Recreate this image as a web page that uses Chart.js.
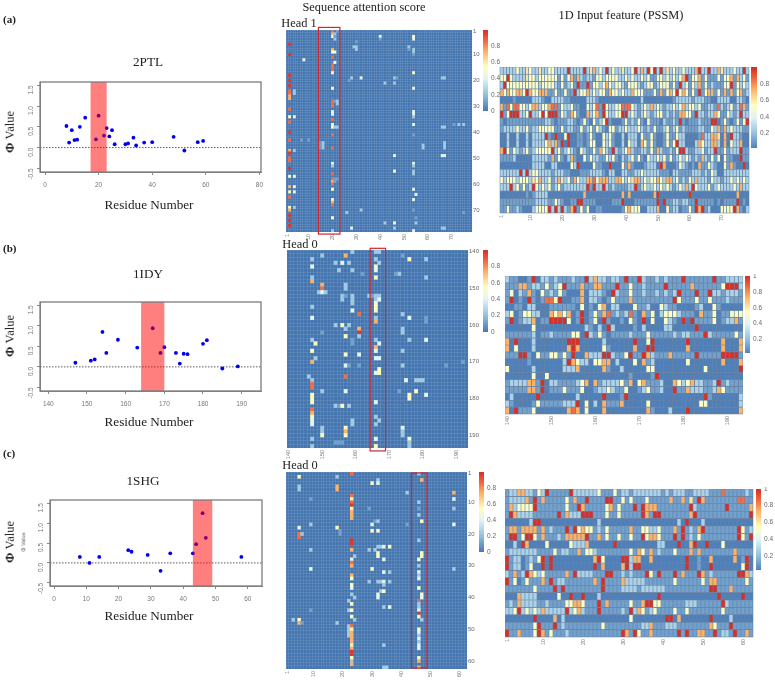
<!DOCTYPE html>
<html lang="en">
<head>
<meta charset="UTF-8" />
<title>Attention maps and PSSM</title>
<script src="https://cdn.jsdelivr.net/npm/chart.js"></script>
<style>
  html, body { margin: 0; padding: 0; background: #fff; }
  #page { position: relative; width: 775px; height: 682px; overflow: hidden; }
  canvas { position: absolute; }
  #phiA, #phiB, #phiC { filter: blur(0.3px); }
  #pssmA, #pssmB, #pssmC { filter: blur(0.15px); }
  .t { position: absolute; font-family: "Liberation Serif", serif; color: #222; white-space: nowrap; line-height: 1; transform: translate(-50%, -50%); filter: blur(0.25px); }
  .tag { font-weight: bold; font-size: 11px; transform: translateY(-50%); }
  .name { font-size: 13.2px; }
  .head { font-size: 12.4px; }
  .phi { font-size: 12.5px; transform: translate(-50%, -50%) rotate(-90deg); }
  .phi b { font-weight: bold; }
  .mini { font-family: "Liberation Sans", sans-serif; font-size: 5.5px; color: #666; transform: translate(-50%, -50%) rotate(-90deg); }
</style>
</head>
<body>
<div id="page">
  <div class="t tag" style="left:3px;top:19px">(a)</div>
  <div class="t tag" style="left:3px;top:248px">(b)</div>
  <div class="t tag" style="left:3px;top:453px">(c)</div>

  <div class="t name" style="left:148px;top:62px">2PTL</div>
  <div class="t name" style="left:148px;top:274px">1IDY</div>
  <div class="t name" style="left:143px;top:481px">1SHG</div>

  <div class="t name" style="left:149px;top:205px">Residue Number</div>
  <div class="t name" style="left:149px;top:422px">Residue Number</div>
  <div class="t name" style="left:149px;top:616px">Residue Number</div>

  <div class="t phi" style="left:10px;top:132px"><b>Φ</b> Value</div>
  <div class="t phi" style="left:10px;top:336px"><b>Φ</b> Value</div>
  <div class="t phi" style="left:10px;top:542px"><b>Φ</b> Value</div>
  <div class="t mini" style="left:24px;top:542px">Φ Value</div>

  <div class="t head" style="left:364px;top:7px">Sequence attention score</div>
  <div class="t head" style="left:621px;top:15px">1D Input feature (PSSM)</div>
  <div class="t head" style="left:299px;top:23px">Head 1</div>
  <div class="t head" style="left:300px;top:244px">Head 0</div>
  <div class="t head" style="left:300px;top:465px">Head 0</div>

  <canvas id="phiA"></canvas><canvas id="phiB"></canvas><canvas id="phiC"></canvas>
  <canvas id="attnA"></canvas><canvas id="attnB"></canvas><canvas id="attnC"></canvas>
  <canvas id="pssmA"></canvas><canvas id="pssmB"></canvas><canvas id="pssmC"></canvas>
  <canvas id="barAttnA"></canvas><canvas id="barAttnB"></canvas><canvas id="barAttnC"></canvas>
  <canvas id="barPssmA"></canvas><canvas id="barPssmB"></canvas><canvas id="barPssmC"></canvas>
</div>

<script>
// ---- phi value scatter data (residue, phi)
const phiPointsA = [[8,.52],[9,.12],[10,.42],[11,.18],[12,.19],[13,.5],[15,.72],[19,.2],[20,.77],[22,.29],[23,.47],[24,.27],[25,.42],[26,.08],[30,.08],[31,.1],[33,.24],[34,.05],[37,.12],[40,.13],[48,.26],[52,-.07],[57,.13],[59,.16]];
const phiPointsB = [[147,.1],[151,.15],[152,.18],[154,.85],[155,.34],[158,.66],[163,.47],[167,.94],[169,.34],[170,.48],[173,.34],[174,.08],[175,.32],[176,.31],[180,.56],[181,.65],[185,-.04],[189,.01]];
const phiPointsC = [[8,.15],[11,0],[14,.15],[23,.32],[24,.28],[29,.2],[33,-.2],[36,.24],[43,.24],[44,.47],[46,1.25],[47,.63],[58,.15]];
const bandA = [17, 23];
const bandB = [164, 170];
const bandC = [43, 49];
const phiTicksY = [-0.5, 0, 0.5, 1, 1.5];
const phiTicksXA = [0, 20, 40, 60, 80];
const phiTicksXB = [140, 150, 160, 170, 180, 190];
const phiTicksXC = [0, 10, 20, 30, 40, 50, 60];

// ---- attention scores: [column, row, score, row, score, ...], all other cells are ~0
const R = .98, H = .86, O = .74, Y = .56, W = .42, L = .24, F = .12;
const attnCellsA = [
  [2, 6,R,10,R,18,R,20,R,22,R,24,H,25,H,26,O,27,O,31,H,34,Y,36,H,40,R,43,H,47,O,48,R,50,H,51,H,54,R,57,Y,61,O,63,Y,65,H,69,Y,70,O,72,R,74,R,76,R],
  [4, 24,L,25,L,34,W,47,L,57,W,61,W,63,W,69,L],
  [8, 12,W], [16, 44,L,45,L,46,L], [15, 44,F,45,F,46,F], [10, 43,F], [7, 43,F], [20, 1,H,2,O,3,W,8,O,9,Y,11,H,14,H,15,H,16,H,17,Y,23,Y,28,H,29,H,30,H,32,W,33,W,35,H,37,Y,38,Y,41,H,46,H,52,W,53,L,56,H,58,H,59,O,60,H,62,Y,66,Y,67,O,68,H,73,Y,78,L],
  [21, 2,L,4,L,9,Y,13,Y,38,L,3,F,28,F,58,F,59,F],
  [22, 1,F,28,L,29,L,38,L,58,F],
  [28, 19,L,77,W], [30, 7,L,8,L,5,F], [29, 7,L], [32, 19,W,70,L], [26, 71,L], [27, 20,F],
  [40, 3,W,4,F], [42, 21,L,75,L], [46, 19,L,21,L,49,W,55,Y,75,Y,77,L], [47, 19,F], [52, 7,L,8,F],
  [54, 3,Y,4,W,8,L,9,L,10,F,17,Y,23,W,32,W,33,W,34,L,37,W,41,F,52,W,53,L,55,L,56,L,62,W,66,W,70,F,78,W],
  [55, 64,W,75,L,73,F], [58, 45,L,46,L], [66, 19,L,38,L,49,W,77,L], [67, 19,L,38,L,44,L,45,L,46,L,49,W,77,L],
  [71, 37,F], [73, 37,L], [75, 37,L], [75, 71,F]
];
const attnCellsB = [
  [8, 3,L,5,W,8,L,9,O,16,L,19,W,25,L,28,Y,31,O,36,L,37,H,38,H,40,Y,41,Y,42,Y,44,H,45,O,46,Y,47,W,48,W,52,L,54,L],
  [9, 26,Y,30,L], [10, 12,L], [11, 2,L,10,O,11,H,12,W,23,F,39,L,49,L,50,L,51,Y], [12, 12,L], [7, 35,L],
  [15, 4,L,21,L,43,L,53,F], [16, 6,L,53,F,43,F], [17, 4,W,13,L,14,L,21,Y,43,Y,53,F],
  [18, 2,O,10,L,11,L,13,F,22,L,24,Y,29,Y,32,W,35,H,39,W,49,Y,50,O,51,Y],
  [19, 4,L,21,L,43,L,32,F],
  [20, 1,L,6,L,13,L,14,L,15,L,17,W,47,L,48,L,25,F,26,F],
  [22, 18,H,22,O,23,R,24,L,29,W,32,F], [23, 7,F], [25, 13,L], [26, 13,F],
  [27, 1,L,3,L,5,Y,6,W,8,Y,13,L,14,L,15,Y,16,Y,17,Y,19,L,20,O,25,L,27,O,28,W,30,W,34,W,42,W,46,L,48,L,52,W,54,Y],
  [28, 1,L,4,L,13,L,14,W,26,W,30,W,33,Y,34,Y,47,L],
  [34, 7,L,39,F], [33, 7,F], [35, 2,F,18,L,22,L,23,L,28,L,32,L,49,W,50,L,51,L],
  [36, 36,W], [37, 3,Y,19,W,25,L,40,Y,41,Y,52,Y,53,L,54,L],
  [39, 36,L,39,Y], [40, 36,L], [41, 36,L], [42, 3,L,8,L,19,F,20,F,25,W,40,W],
  [48, 32,F], [53, 31,F]
];
const attnCellsC = [
  [3, 47,L], [5, 2,Y,5,L,6,L,18,W,20,H,21,H,47,Y,48,O], [6, 20,L,48,F], [9, 9,F,17,L,25,L,31,W,44,F],
  [18, 2,L,5,O,6,O,18,Y,48,L], [19, 20,F,19,F],
  [22, 41,L,44,L,49,L,50,L,51,L,52,L],
  [23, 1,H,8,H,9,Y,10,H,11,R,12,Y,13,O,14,O,15,O,22,R,23,R,25,O,28,W,29,H,30,O,33,O,34,Y,36,Y,37,W,39,L,42,Y,44,Y,46,Y,49,H,50,Y,51,O,52,O,53,O,54,O,55,W,56,O,57,R,58,R,59,Y,60,L,61,O],
  [24, 27,L,40,L,47,L],
  [29, 25,L,35,L,12,F], [30, 4,Y,17,W,19,Y,31,Y], [31, 25,L,16,F],
  [32, 3,L,4,W,16,L,19,Y,26,Y,27,Y,35,L,39,W,40,W,24,L], [33, 24,L,38,L,35,L],
  [34, 24,W,28,W,32,W,35,W,36,L,38,Y,43,L,55,L,62,L], [35, 62,L], [36, 24,Y,32,L,35,L,43,W],
  [42, 7,L,17,F], [46, 1,L,10,L,12,F,14,L,22,L,28,Y,30,L,32,W,33,L,34,W,37,Y,41,H,42,L,43,L,44,W,45,R,46,Y,50,Y,51,W,52,L,53,W,54,L,55,W,56,W,59,Y,60,O,62,O],
  [47, 3,O,16,Y,26,Y,27,Y,39,Y,40,W,47,L],
  [58, 7,O,9,W,12,L,17,W,31,L]
];

// ---- PSSM values, one digit per cell (see digitValues), one string per row
const digitValues = [0, .03, .12, .27, .4, .54, .62, .74, .86, 1];
const pssmRowsA = [
  "3333353365 3363355333 3933339367 3539353363 3593739593 9363533533 3793393376 33353393",
  "5595333365 5355555525 2572732332 5535555335 3533535225 5353535792 5572522252 55727352",
  "3955555555 5535555325 2352922925 5357535532 5553235523 5552529352 5372523222 55925353",
  "7575577597 5577722522 5229355735 3552755353 3755522252 7257595752 5292577252 72725723",
  "1111211111 3332113333 2211111333 2111111111 1111311111 1111233333 2333221133 33113321",
  "7285885535 7735578825 3352211535 8295335588 8532353735 3233535735 5352233283 23523872",
  "9259993359 3359599925 3275211735 7295335599 3532353235 5232327755 2933233752 25323933",
  "2122222222 2222332122 2332125215 2359211125 2325215222 1322329212 2232229912 52125259",
  "2333353352 3355555225 2332252352 5321552335 3335323252 2352352322 2233225372 73533322",
  "1131131131 3333921911 5911221252 1153521131 3331522521 1252253311 1128337761 71933211",
  "1131131131 3333573729 1911221255 1153521131 5331752521 1252593311 1375337731 71533711",
  "7952532352 3555559352 3532153225 2753293235 7322332527 3223259932 2335233922 52333922",
  "2222311111 3333327252 1372115253 3225352132 3525215335 3525235353 2327325251 52211922",
  "1111111111 3333113311 1153911115 2211911152 7211123331 9711125321 2172253211 52721191",
  "3333339393 5533332333 2211122233 3321331133 2233533333 2221332222 3332325311 33333333",
  "5355535553 6573352376 3527533778 5777337753 5677353557 5377352325 3733325332 33535353",
  "3339352523 9535352352 3333333929 3393232222 3392353353 5353235373 9533352353 33353733",
  "1111111121 2333311111 1111117111 1111111171 7111111179 1111111119 1111111111 11117111",
  "2222222222 2333322532 1122992222 1111122291 1122222229 1922332332 2922222121 22229121",
  "2252232111 3555593939 3279252511 2211111125 7555113337 1152331225 2979231115 55597213"
];
const pssmRowsB = [
  "3221129133 2322232293 7332332922 9322323222 9222222922 3333",
  "2227723325 2359222722 7722292252 2322229222 2272222225 9993",
  "2513272152 3252111713 3321932252 2322323239 2229229332 3332",
  "2912192128 8591122713 3212522272 2222222295 2225225222 3222",
  "1122133111 2222221512 1571331115 2231153221 1112311521 1111",
  "3512553311 7575712912 5278232382 1725135553 2221722512 2555",
  "2912337122 9999512912 5192112152 1915115321 9192222512 3372",
  "1111115111 1111111132 1319311112 1311113311 1119111111 1111",
  "2222223122 3222255193 2521222232 2252222232 3322293222 2252",
  "7191113111 1111999111 1131111119 1159111111 1911111117 1117",
  "7151113111 1111797111 1152111117 1199111111 1711111117 1117",
  "2229921522 5525291173 3399322592 2973222722 2229222229 9992",
  "1111121111 1113975331 5577131115 1723111111 1511111117 1117",
  "5111113111 1113337111 1172113111 1155111111 1111151111 1119",
  "1111115115 1111111111 1111111121 1112911111 1111111111 1111",
  "2333377291 3322223571 7233335271 5722231175 3573322392 3222",
  "2222277291 2225222511 2335322511 2352231192 2733322375 2222",
  "1311111911 1111113111 1191112911 1111111111 1111192111 1113",
  "3211112522 2223339151 3172227111 1151111111 1111551111 1113",
  "7192225111 1111787151 1171111111 1172111311 1911111111 1117"
];
const pssmRowsC = [
  "2337733253 9222229333 3335222523 3233333332 3233322333 3222822222 32",
  "2333372927 2222252722 9222299225 2522252222 2722726297 2222222288 22",
  "2735555922 2222252297 2222257252 2292977722 2222229322 2222292222 27",
  "2973333222 2229273339 9922252252 2222972992 2222227922 2222222222 29",
  "1111113991 1111111111 1113111111 1111111111 1113191113 1111111111 11",
  "2772777727 2322292957 5523252222 2722553352 2272923279 2222222295 23",
  "2992599527 2223277777 9227252252 2522957752 2292923252 2222222295 29",
  "1131971111 5111115333 7111111911 1111111133 1119117911 9111511111 11",
  "2333333322 2252332272 5532222222 2527527232 2252227272 2222222722 22",
  "9233123259 1911111111 1179511119 9377117111 1111191121 1711111712 91",
  "9233125119 1911111111 1191711117 9399111111 1111191121 1911111115 91",
  "3272397535 2222272933 3322299223 2322295292 2292722297 2322222299 73",
  "9251252227 2923322222 2272922227 3333322222 2252222225 2772222222 52",
  "2222222522 2292922222 2222922223 3332333333 2222222222 2992227222 22",
  "1117333311 1115119119 1113111111 1111111191 1111111111 1119111119 11",
  "2327333322 3222255775 2229272222 2522799552 2222233322 2222932222 22",
  "3359353537 3333393573 2229222223 2937523522 2252252222 2222522222 22",
  "1111111911 1171311111 1111111111 1511111111 9917111111 1911113111 11",
  "2222222592 2292322222 2222522222 2222337222 3332222222 2752229222 22",
  "9227222597 2522232222 2222222229 7295227222 2229292277 2292332922 72"
];

// ---- axis labels
const colsA = Array.from({length: 78}, (_, i) => i + 1);
const colsB = Array.from({length: 54}, (_, i) => i + 140);
const colsC = Array.from({length: 62}, (_, i) => i + 1);
const shownA = [1, 10, 20, 30, 40, 50, 60, 70];
const shownB = [140, 150, 160, 170, 180, 190];
const shownC = [1, 10, 20, 30, 40, 50, 60];
const attnBarTicks = [0, 0.2, 0.4, 0.6, 0.8];
const pssmBarTicksA = [0.2, 0.4, 0.6, 0.8];
const pssmBarTicks = [0.2, 0.4, 0.6, 0.8, 1];

Chart.defaults.font.family = '"Liberation Sans", Arial, sans-serif';
Chart.defaults.animation = false;
Chart.defaults.plugins.legend.display = false;
Chart.defaults.plugins.tooltip.enabled = false;

const TICK = '#777';
const STOPS = [[0,[69,117,180]],[.2,[145,191,219]],[.4,[224,243,248]],[.55,[255,255,191]],[.75,[253,174,97]],[.86,[244,109,67]],[1,[215,48,39]]];

function heatColor(v) {
  for (let i = 1; i < STOPS.length; i++) {
    if (v <= STOPS[i][0]) {
      const a = STOPS[i - 1], b = STOPS[i];
      const t = (v - a[0]) / (b[0] - a[0]);
      const c = a[1].map((p, k) => Math.round(p + (b[1][k] - p) * t));
      return `rgb(${c[0]},${c[1]},${c[2]})`;
    }
  }
  return 'rgb(215,48,39)';
}

// place a canvas so the plot area lands exactly on box
function place(id, box, m) {
  const cv = document.getElementById(id);
  const w = box.r - box.l + m.l + m.r, h = box.b - box.t + m.t + m.b;
  cv.width = w; cv.height = h;
  cv.style.left = (box.l - m.l) + 'px';
  cv.style.top = (box.t - m.t) + 'px';
  cv.style.width = w + 'px'; cv.style.height = h + 'px';
  return cv;
}

function fixH(h) { return s => { s.height = h; s.paddingLeft = 0; s.paddingRight = 0; }; }
function fixW(w) { return s => { s.width = w; s.paddingTop = 0; s.paddingBottom = 0; }; }
function setTicks(list) { return s => { s.ticks = list.map(v => ({value: v})); }; }

const bandPlugin = {
  id: 'band',
  afterDatasetsDraw(chart, args, o) {
    const {ctx, chartArea: a, scales} = chart;
    const x0 = scales.x.getPixelForValue(o.range[0]), x1 = scales.x.getPixelForValue(o.range[1]);
    ctx.save();
    ctx.fillStyle = 'rgba(255,0,0,0.5)';
    ctx.fillRect(x0, a.top, x1 - x0, a.bottom - a.top);
    ctx.strokeStyle = '#7c7c7c'; ctx.lineWidth = 1.3;
    ctx.strokeRect(a.left, a.top, a.right - a.left, a.bottom - a.top);
    ctx.restore();
  }
};

function phiChart(id, box, pts, band, xTicks, xr, yr) {
  const m = {l: 22, r: 4, t: 3, b: 20};
  const cv = place(id, box, m);
  new Chart(cv, {
    type: 'scatter',
    plugins: [bandPlugin],
    data: {datasets: [
      {data: pts.map(p => ({x: p[0], y: p[1]})), backgroundColor: '#0000ee', borderWidth: 0, pointRadius: 1.9},
      {type: 'line', data: [{x: xr[0], y: 0}, {x: xr[1], y: 0}], borderColor: '#333', borderWidth: 0.8, borderDash: [1.5, 1.5], pointRadius: 0}
    ]},
    options: {
      responsive: false,
      layout: {padding: {left: 0, right: m.r, top: m.t, bottom: 0}},
      plugins: {band: {range: band}},
      scales: {
        x: {type: 'linear', min: xr[0], max: xr[1], afterBuildTicks: setTicks(xTicks), afterFit: fixH(m.b),
            grid: {drawOnChartArea: false, tickLength: 3, color: '#888'}, border: {color: '#888'},
            ticks: {color: TICK, font: {size: 6.5}, padding: 6, maxRotation: 0, autoSkip: false}},
        y: {min: yr[0], max: yr[1], afterBuildTicks: setTicks(phiTicksY), afterFit: fixW(m.l),
            grid: {drawOnChartArea: false, tickLength: 3, color: '#888'}, border: {color: '#888'},
            ticks: {color: TICK, font: {size: 6.5}, padding: 6, minRotation: 90, maxRotation: 90, autoSkip: false,
                    callback: v => v.toFixed(1)}}
      }
    }
  });
}

const redBoxPlugin = {
  id: 'redBox',
  afterDraw(chart, args, o) {
    if (!o.cols) return;
    const {ctx, scales} = chart;
    const n = scales.x.getLabels().length;
    const x0 = scales.x.getPixelForDecimal(o.cols[0] / n), x1 = scales.x.getPixelForDecimal(o.cols[1] / n);
    const y0 = scales.y.getPixelForValue(o.rows[0] + .5), y1 = scales.y.getPixelForValue(o.rows[1] + .5);
    ctx.save();
    ctx.strokeStyle = '#d3262c'; ctx.lineWidth = 1.2;
    ctx.strokeRect(x0, y0, x1 - x0, y1 - y0);
    ctx.restore();
  }
};
const baseFillPlugin = {
  id: 'baseFill',
  beforeDraw(chart, args, o) {
    const {ctx, chartArea: a} = chart;
    ctx.save();
    ctx.fillStyle = o.color;
    ctx.fillRect(a.left, a.top, a.right - a.left, a.bottom - a.top);
    ctx.restore();
  }
};

// floating bars, one per cell, through category x and reversed linear y
function heatChart(id, box, cols, rowNames, shownX, shownY, cells, o) {
  const m = {l: 2, r: 14, t: 6, b: 16};
  const cv = place(id, box, m);
  const cw = (box.r - box.l) / cols.length;
  const nRows = rowNames.length;
  new Chart(cv, {
    type: 'bar',
    plugins: [baseFillPlugin, redBoxPlugin],
    data: {labels: cols, datasets: [{
      data: cells.map(c => ({x: cols[c[0] - 1], y: [c[1] - .5, c[1] + .5]})),
      backgroundColor: cells.map(c => heatColor(c[2])),
      borderColor: o.cellBorder || 'rgba(0,0,0,0)',
      borderWidth: o.cellBorder ? 0.3 : 0,
      borderSkipped: false,
      inflateAmount: o.inflate || 0,
      grouped: false,
      barThickness: cw,
      yAxisID: 'y'
    }]},
    options: {
      responsive: false,
      layout: {padding: {left: m.l, right: o.showY ? 0 : m.r, top: m.t, bottom: 0}},
      plugins: {baseFill: {color: o.base}, redBox: {cols: o.boxCols, rows: o.boxRows}},
      scales: {
        x: {type: 'category', offset: true, afterFit: fixH(m.b), border: {display: false},
            grid: {offset: true, color: o.gridColor, lineWidth: 0.6, drawTicks: false},
            ticks: {color: TICK, font: {size: 5.5}, padding: 2, autoSkip: false, minRotation: 90, maxRotation: 90,
                    callback: (v, i) => shownX.includes(cols[i]) ? String(cols[i]) : ''}},
        y: {position: 'right', reverse: true, min: .5, max: nRows + .5, afterFit: fixW(o.showY ? m.r : 0),
            afterBuildTicks: setTicks(shownY.map(n => rowNames.indexOf(n) + 1)),
            border: {display: false}, grid: {display: false, drawTicks: false},
            ticks: {display: !!o.showY, color: '#666', font: {size: 6}, padding: 1, autoSkip: false,
                    callback: v => String(rowNames[v - 1])}},
        g: {axis: 'y', position: 'left', min: 0, max: nRows, afterFit: fixW(0), border: {display: false},
            grid: {color: o.gridColor, lineWidth: 0.6, drawTicks: false},
            ticks: {display: false, stepSize: 1}}
      }
    }
  });
}

function colorBar(id, box, lo, hi, list) {
  const m = {l: 0, r: 16, t: 2, b: 2};
  const cv = place(id, box, m);
  const cells = [];
  const steps = 60, dv = (hi - lo) / steps;
  for (let i = 0; i < steps; i++) cells.push(lo + i * dv);
  new Chart(cv, {
    type: 'bar',
    data: {labels: ['c'], datasets: [{
      data: cells.map(v => ({x: 'c', y: [v, v + dv]})),
      backgroundColor: cells.map(v => heatColor(Math.min(1, v + dv / 2))),
      borderWidth: 0, grouped: false, barThickness: box.r - box.l, inflateAmount: 0.4
    }]},
    options: {
      responsive: false,
      layout: {padding: {top: m.t, bottom: m.b}},
      scales: {
        x: {display: false},
        y: {position: 'right', min: lo, max: hi, afterFit: fixW(m.r), afterBuildTicks: setTicks(list),
            border: {display: false}, grid: {display: false, drawTicks: false},
            ticks: {color: '#666', font: {size: 6.5}, padding: 3, autoSkip: false, callback: v => String(v)}}
      }
    }
  });
}

function sparse(list) {
  const out = [];
  list.forEach(col => {
    for (let i = 1; i < col.length; i += 2) out.push([col[0], col[i], col[i + 1]]);
  });
  return out;
}
function dense(rows) {
  const out = [];
  rows.forEach((s, r) => {
    s.replace(/ /g, '').split('').forEach((d, c) => out.push([c + 1, r + 1, digitValues[+d]]));
  });
  return out;
}

// ---- phi panels
phiChart('phiA', {l: 40, r: 261, t: 81, b: 172}, phiPointsA, bandA, phiTicksXA, [-1.87, 80.6], [-.588, 1.58]);
phiChart('phiB', {l: 40, r: 261, t: 301, b: 391}, phiPointsB, bandB, phiTicksXB, [137.85, 195], [-.588, 1.58]);
phiChart('phiC', {l: 50, r: 262, t: 499, b: 586}, phiPointsC, bandC, phiTicksXC, [-1.24, 64.4], [-.58, 1.58]);

// ---- attention panels
const attnStyle = {base: '#4676b0', gridColor: 'rgba(205,220,235,0.2)', showY: true, inflate: 0.25};
heatChart('attnA', {l: 286, r: 472, t: 30, b: 232}, colsA, colsA, shownA, shownA, sparse(attnCellsA),
  Object.assign({boxCols: [13.6, 22.6], boxRows: [-1, 78.8]}, attnStyle));
heatChart('attnB', {l: 287, r: 468, t: 250, b: 448}, colsB, colsB, shownB, shownB, sparse(attnCellsB),
  Object.assign({boxCols: [24.8, 29.4], boxRows: [-.46, 54.8]}, attnStyle));
heatChart('attnC', {l: 286, r: 467, t: 472, b: 669}, colsC, colsC, shownC, shownC, sparse(attnCellsC),
  Object.assign({boxCols: [43, 48.3], boxRows: [.3, 61.7]}, attnStyle));

// ---- PSSM panels
const rows20 = Array.from({length: 20}, (_, i) => i + 1);
const pssmStyle = {base: '#4676b2', gridColor: 'rgba(130,140,150,0.5)', cellBorder: 'rgb(135,145,155)'};
heatChart('pssmA', {l: 500, r: 749, t: 67, b: 213}, colsA, rows20, shownA, [], dense(pssmRowsA), pssmStyle);
heatChart('pssmB', {l: 505, r: 743, t: 276, b: 414}, colsB, rows20, shownB, [], dense(pssmRowsB), pssmStyle);
heatChart('pssmC', {l: 505, r: 753, t: 489, b: 637}, colsC, rows20, shownC, [], dense(pssmRowsC), pssmStyle);

// ---- colour bars
colorBar('barAttnA', {l: 483, r: 488, t: 30, b: 111}, 0, 1, attnBarTicks);
colorBar('barAttnB', {l: 483, r: 488, t: 250, b: 332}, 0, 1, attnBarTicks);
colorBar('barAttnC', {l: 479, r: 484, t: 472, b: 552}, 0, 1, attnBarTicks);
colorBar('barPssmA', {l: 751, r: 757, t: 67, b: 148}, .024, 1.01, pssmBarTicksA);
colorBar('barPssmB', {l: 745, r: 750, t: 276, b: 353}, .03, 1, pssmBarTicks);
colorBar('barPssmC', {l: 756, r: 761, t: 489, b: 570}, .03, 1, pssmBarTicks);
</script>
</body>
</html>
